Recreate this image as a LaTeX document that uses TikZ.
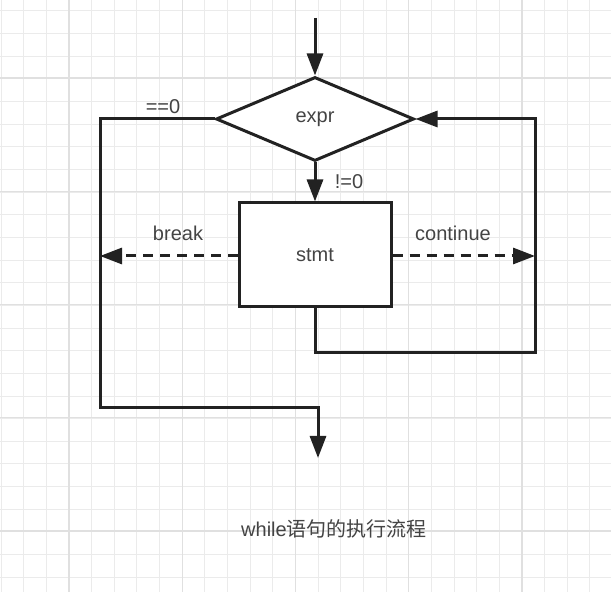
\documentclass[tikz,border=0pt]{standalone}
\usepackage{fontspec}
\setmainfont{Liberation Sans}
\newfontfamily\cjk{Noto Sans CJK SC}
\usetikzlibrary{shapes.geometric,arrows.meta}

\definecolor{gridminor}{HTML}{EBEBEB}
\definecolor{gridmajor}{HTML}{E0E0E0}
\definecolor{ink}{HTML}{222222}
\definecolor{labelgray}{HTML}{444444}

\tikzset{
	flow/.style={draw=ink, line width=1.5pt, -{Triangle[length=11pt,width=8pt]}},
	jump/.style={flow, dash pattern=on 5pt off 3.5pt},
	decision/.style={diamond, draw=ink, line width=1.5pt, fill=white, inner sep=0pt,
		minimum width=99pt, minimum height=42pt, text=labelgray, font=\fontsize{10}{12}\selectfont},
	block/.style={rectangle, draw=ink, line width=1.5pt, fill=white,
		minimum width=76pt, minimum height=52pt, text=labelgray, font=\fontsize{10}{12}\selectfont},
	tag/.style={text=labelgray, font=\fontsize{10}{12}\selectfont, inner sep=0pt}
}

\begin{document}
\begin{tikzpicture}[x=0.5pt, y=-0.5pt]
			\useasboundingbox (0,0) rectangle (611,592);
			\fill[white] (0,0) rectangle (611,592);
			% Grid paper
			\foreach \i in {0,...,26} {
					\pgfmathsetmacro\gx{1+22.65*\i}
					\pgfmathsetmacro\gy{11+22.65*\i}
					\draw[gridminor, line width=0.5pt] (\gx,0) -- (\gx,592);
					\draw[gridminor, line width=0.5pt] (0,\gy) -- (611,\gy);
				}
			\foreach \i in {0,...,5} {
					\pgfmathsetmacro\gx{69+113.25*\i}
					\draw[gridmajor, line width=0.6pt] (\gx,0) -- (\gx,592);
					\draw[gridmajor, line width=0.6pt] (0,\gx+9) -- (611,\gx+9);
				}
			% Nodes
			\node[decision] (expr) at (315,119) {expr};
			\node[block] (stmt) at (315,255) {stmt};
			\coordinate (entry) at (315,18);
			\coordinate (exit) at (318,458);
			\coordinate (brk) at (100,256);
			\coordinate (cont) at (535,256);
			% Edges
			\draw[flow] (entry) -- (expr.north);
			\draw[flow] (expr.south) -- (stmt.north);
			\draw[flow] (expr.west) -| (100,408) -| (exit);
			\draw[flow] (stmt.south) |- (cont |- 0,353) |- (expr.east);
			\draw[jump] (stmt.west |- brk) -- (brk);
			\draw[jump] (stmt.east |- cont) -- (cont);
			% Labels
			\node[tag] (eqzero) at (163,107) {==0};
			\node[tag] (nezero) at (349,182) {!=0};
			\node[tag] (brklabel) at (178,233) {break};
			\node[tag] (contlabel) at (453,233) {continue};
			\node[tag] (caption) at (334,529) {while{\cjk 语句的执行流程}};
		\end{tikzpicture}
\end{document}
